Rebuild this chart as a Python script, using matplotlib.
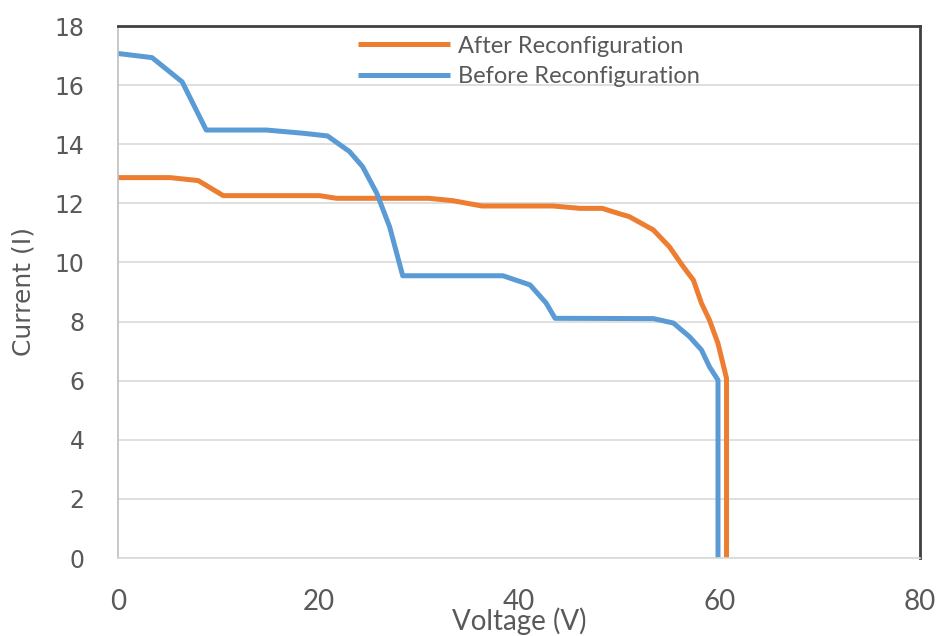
import matplotlib
matplotlib.use("Agg")
import matplotlib.pyplot as plt

# ── Data ──────────────────────────────────────────────────────────────────────
after_v = [0, 5.2, 8.0, 10.5, 20.1, 21.8, 31.0, 33.4, 36.3, 43.4, 46.1, 48.3,
           50.0, 51.0, 53.4, 55.0, 56.4, 57.4, 58.2, 59.0, 59.85, 60.7, 60.7]
after_i = [12.87, 12.87, 12.77, 12.26, 12.26, 12.17, 12.17, 12.09, 11.91, 11.91,
           11.83, 11.83, 11.65, 11.55, 11.10, 10.53, 9.85, 9.40, 8.62, 8.05,
           7.26, 6.08, 0.0]

before_v = [0, 3.4, 6.4, 8.8, 14.8, 18.5, 20.9, 23.1, 24.4, 25.8, 27.1, 28.4,
            38.4, 41.1, 42.7, 43.6, 53.4, 55.4, 57.0, 58.2, 59.0, 59.85, 59.85]
before_i = [17.07, 16.93, 16.11, 14.48, 14.48, 14.37, 14.28, 13.75, 13.24, 12.35,
            11.20, 9.55, 9.55, 9.24, 8.63, 8.11, 8.10, 7.95, 7.49, 7.04, 6.47,
            6.02, 0.0]

X_TICKS = [0, 20, 40, 60, 80]
Y_TICKS = list(range(0, 19, 2))

ORANGE = "#ED7D31"
BLUE   = "#5B9BD5"
GREY   = "#595959"
NARROW = ["Lato", "DejaVu Sans"]

fig = plt.figure(figsize=(9.38, 6.36), dpi=100)
ax = fig.add_axes([118 / 938, 78 / 636, 802 / 938, 532 / 636])

ax.plot(after_v, after_i, color=ORANGE, linewidth=3.6,
        solid_capstyle="butt", label="After Reconfiguration")
ax.plot(before_v, before_i, color=BLUE, linewidth=3.6,
        solid_capstyle="butt", label="Before Reconfiguration")

ax.set_xlim(0, 80)
ax.set_ylim(0, 18)
ax.set_xticks(X_TICKS)
ax.set_yticks(Y_TICKS)
ax.grid(axis="y", color="#D9D9D9", linewidth=1.2)
ax.set_axisbelow(True)

ax.tick_params(axis="y", length=0, pad=24, colors=GREY, labelsize=17)
ax.tick_params(axis="x", length=0, pad=22, colors=GREY)
for lab in ax.get_xticklabels():
    lab.set_family(NARROW)
    lab.set_fontsize(20)
for lab in ax.get_yticklabels():
    lab.set_family("DejaVu Sans")

for side in ("top", "right"):
    ax.spines[side].set_color("#404040")
    ax.spines[side].set_linewidth(2)
ax.spines["left"].set_color("#BFBFBF")
ax.spines["left"].set_linewidth(1.2)
ax.spines["bottom"].set_color("#D9D9D9")
ax.spines["bottom"].set_linewidth(1.2)

ax.set_xlabel("Voltage (V)", fontsize=20, color=GREY, family=NARROW, labelpad=-5)
ax.set_ylabel("Current (I)", fontsize=18, color=GREY, family="DejaVu Sans", labelpad=14)

leg = ax.legend(loc="upper left", bbox_to_anchor=(0.299, 0.982), frameon=False,
                handlelength=3.9, handletextpad=0.35, labelspacing=0.4,
                borderpad=0, borderaxespad=0,
                prop={"family": NARROW, "size": 17})
for txt in leg.get_texts():
    txt.set_color(GREY)

fig.savefig("out.png", dpi=100)
